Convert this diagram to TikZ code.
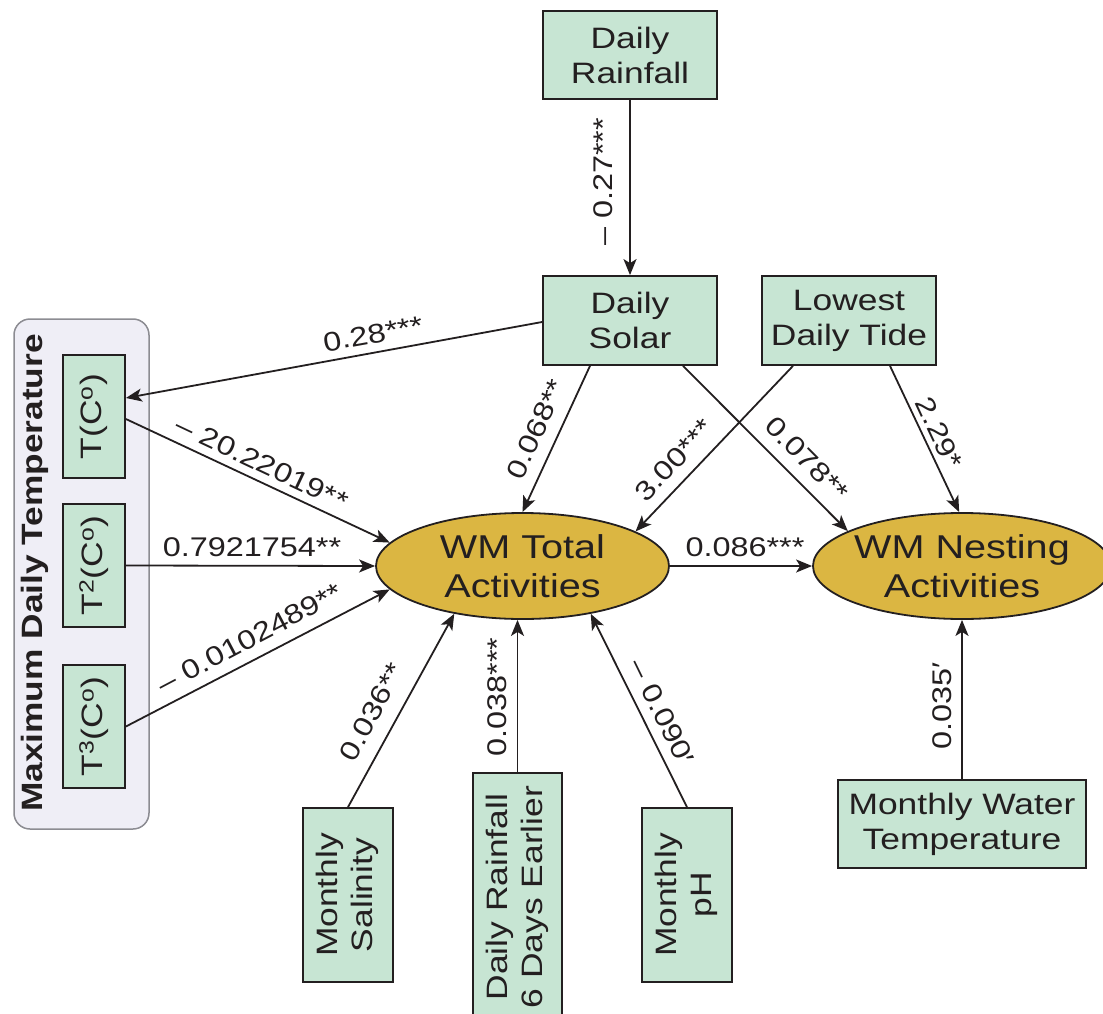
\documentclass[tikz,border=0pt]{standalone}
\usepackage{fontspec}
\setmainfont{Liberation Sans}[FakeStretch=1.2]
\usetikzlibrary{arrows.meta,calc,shapes.geometric}
\definecolor{boxfill}{RGB}{199,229,211}
\definecolor{ellfill}{RGB}{219,182,66}
\definecolor{grpfill}{RGB}{239,238,246}
\definecolor{grpdraw}{RGB}{140,140,146}
\definecolor{ink}{RGB}{35,31,32}
\newcommand\boxfont{\fontsize{29.5}{35}\selectfont}
\newcommand\ellfont{\fontsize{33}{39}\selectfont}
\newcommand\labfont{\fontsize{27}{30}\selectfont}
\newcommand\grpfont{\fontsize{29.4}{33}\selectfont\bfseries}
\newcommand\vtext[1]{\rotatebox{90}{\begin{tabular}{@{}c@{}}#1\end{tabular}}}
\begin{document}
\begin{tikzpicture}[x=1pt,y=-1pt,
  box/.style={draw=ink, line width=1.8pt, fill=boxfill, inner sep=0pt, align=center, font=\boxfont, text=ink},
  ell/.style={ellipse, draw=ink, line width=1.8pt, fill=ellfill, inner sep=-12pt, align=center, font=\ellfont, text=ink},
  grp/.style={draw=grpdraw, line width=1.5pt, fill=grpfill, rounded corners=16pt, inner sep=0pt},
  lab/.style={inner sep=0pt, font=\labfont, text=ink},
  arr/.style={draw=ink, line width=1.8pt, -{Stealth[length=16pt,width=13pt,inset=4pt]}}]
\useasboundingbox (0,0) rectangle (1103,1014);

% group frame
\node[grp, minimum width=135pt, minimum height=510pt] (grp) at (81.5,574) {};
\node[rotate=90, inner sep=0pt, font=\grpfont, text=ink] (grplab) at (35,573) {Maximum Daily Temperature};
\node[box, minimum width=62pt, minimum height=123pt] (t1) at (94,416.5) {\rotatebox{90}{T(C\textsuperscript{o})}};
\node[box, minimum width=62pt, minimum height=123pt] (t2) at (94,565.5) {\rotatebox{90}{T\textsuperscript{2}(C\textsuperscript{o})}};
\node[box, minimum width=62pt, minimum height=123pt] (t3) at (94,726.5) {\rotatebox{90}{T\textsuperscript{3}(C\textsuperscript{o})}};

% top boxes
\node[box, minimum width=174pt, minimum height=88pt] (rain) at (630,55) {Daily\\Rainfall};
\node[box, minimum width=174pt, minimum height=89pt] (solar) at (630,320.5) {Daily\\Solar};
\node[box, minimum width=174pt, minimum height=89pt] (tide) at (849,320.5) {Lowest\\Daily Tide};

% ellipses
\node[ell, minimum width=293pt, minimum height=106pt] (total) at (522.5,566) {WM Total\\Activities};
\node[ell, minimum width=298pt, minimum height=106pt] (nest) at (962,566) {WM Nesting\\Activities};

% bottom boxes
\node[box, minimum width=90pt, minimum height=174pt] (sal) at (348,895) {\vtext{Monthly\\Salinity}};
\node[box, minimum width=89pt, minimum height=248pt] (rain6) at (517.5,897) {\vtext{Daily Rainfall\\6 Days Earlier}};
\node[box, minimum width=90pt, minimum height=174pt] (ph) at (687,895) {\vtext{Monthly\\pH}};
\node[box, minimum width=248pt, minimum height=88pt] (water) at (962,824) {Monthly Water\\Temperature};

% connectors
\draw[arr] (rain) -- (solar);
\draw[arr] ($(solar.west)+(0,1.5)$) -- ($(t1.east)+(0,-18.5)$);
\draw[arr] ($(t1.east)+(0,2.5)$) -- (total.170);
\draw[arr] (t2.east) -- (total.west);
\draw[arr] (t3.east) -- (total.190);
\draw[arr] ($(solar.south)+(-40,0)$) -- (total.north);
\draw[arr] ($(solar.south)+(53,0)$) -- (nest.163);
\draw[arr] ($(tide.south)+(-56,0)$) -- (total.17);
\draw[arr] ($(tide.south)+(41,0)$) -- (nest.93);
\draw[arr] (total.east) -- (nest.west);
\draw[arr] (sal.north) -- (total.215);
\draw[arr] (rain6.north) -- (rain6.north |- total.south);
\draw[arr] (ph.north) -- (total.-35);
\draw[arr] (water) -- (nest);

% labels
\node[lab, rotate=90] (l27) at (603,182) {– 0.27***};
\node[lab, rotate=10.3] (l28) at (373,334) {0.28***};
\node[lab, rotate=-25.3] (l20) at (262,463) {– 20.22019**};
\node[lab] (l79) at (252,547) {0.7921754**};
\node[lab, rotate=27.8] (l01) at (250,638) {– 0.0102489**};
\node[lab, rotate=65.4] (l068) at (536,429) {0.068**};
\node[lab, rotate=46.6] (l300) at (674,460) {3.00***};
\node[lab, rotate=-45.3] (l078) at (807,459) {0.078**};
\node[lab, rotate=-65] (l229) at (939,433) {2.29*};
\node[lab] (l086) at (745,547) {0.086***};
\node[lab, rotate=61.5] (l036) at (372,712) {0.036**};
\node[lab, rotate=90] (l038) at (497,697) {0.038***};
\node[lab, rotate=-64] (l090) at (662,712) {– 0.090′};
\node[lab, rotate=90] (l035) at (942,706) {0.035′};
\end{tikzpicture}
\end{document}
